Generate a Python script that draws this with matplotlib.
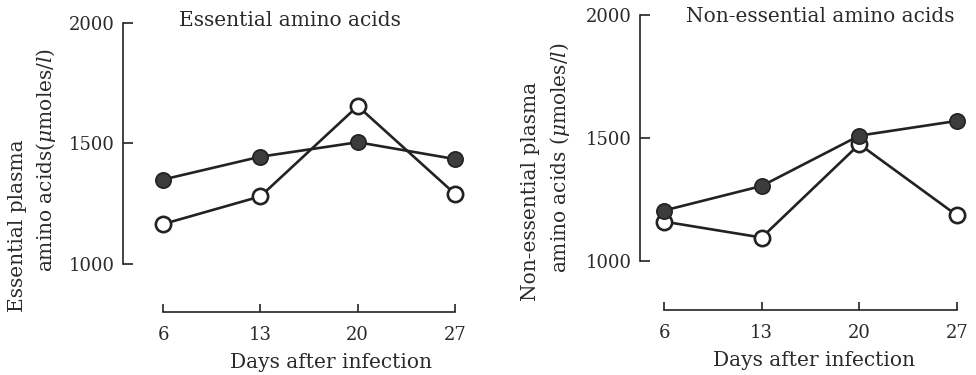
import matplotlib
matplotlib.use("Agg")
import matplotlib.pyplot as plt

plt.rcParams['font.family'] = ['DejaVu Serif']
plt.rcParams['mathtext.fontset'] = 'dejavuserif'

days = [6, 13, 20, 27]
ess_filled = [1350, 1445, 1505, 1435]
ess_open = [1165, 1280, 1655, 1290]
non_filled = [1205, 1305, 1510, 1570]
non_open = [1160, 1095, 1475, 1185]
yticks = [1000, 1500, 2000]

INK = '#222222'
TXT = '#2a2a2a'
FILL = '#3c3c3c'
W, H = 976, 375

fig = plt.figure(figsize=(W / 100, H / 100), dpi=100)

def make_axes(px_left, px_right, px_top, px_bottom):
    return fig.add_axes([px_left / W, 1 - px_bottom / H,
                         (px_right - px_left) / W, (px_bottom - px_top) / H])

def style(ax, xl):
    ax.set_xlim(*xl)
    ax.set_ylim(800, 2050)
    for s in ('top', 'right'):
        ax.spines[s].set_visible(False)
    ax.spines['left'].set_bounds(1000, 2000)
    ax.spines['bottom'].set_bounds(6, 27)
    for s in ('left', 'bottom'):
        ax.spines[s].set_linewidth(1.2)
        ax.spines[s].set_color(INK)
    ax.set_yticks(yticks)
    ax.set_xticks(days)
    ax.tick_params(axis='y', direction='in', length=7, width=1.2, color=INK,
                   labelsize=13, labelcolor=TXT, pad=6)
    ax.tick_params(axis='x', direction='in', length=6, width=1.2, color=INK,
                   labelsize=13, labelcolor=TXT, pad=10)
    ax.patch.set_alpha(0)

def draw(ax, filled, opn):
    ax.plot(days, opn, '-o', color=INK, lw=1.9, ms=11, mfc='white',
            mec=INK, mew=1.9, zorder=3, clip_on=False)
    ax.plot(days, filled, '-o', color=INK, lw=1.9, ms=11, mfc=FILL,
            mec=INK, mew=1.2, zorder=4, clip_on=False)

# Left panel
ax1 = make_axes(123, 469, 11, 312)
style(ax1, (6 - 40 / 13.905, 28))
draw(ax1, ess_filled, ess_open)

# Right panel
ax2 = make_axes(640, 971, 3, 310)
style(ax2, (6 - 24 / 13.95, 28))
draw(ax2, non_filled, non_open)

def ftext(x, y, s, **kw):
    fig.text(x / W, 1 - y / H, s, color=TXT, fontsize=14.5,
             ha='center', va='center', **kw)

ftext(290, 20, 'Essential amino acids')
ftext(820, 17, 'Non-essential amino acids')
ftext(331, 362, 'Days after infection')
ftext(814, 360, 'Days after infection')
ftext(18, 226, 'Essential plasma', rotation=90)
ftext(46, 160, r'amino acids($\mu$moles/$l$)', rotation=90)
ftext(531, 191, 'Non-essential plasma', rotation=90)
ftext(560, 158, r'amino acids ($\mu$moles/$l$)', rotation=90)

fig.savefig('out.png', dpi=100, facecolor='white')
